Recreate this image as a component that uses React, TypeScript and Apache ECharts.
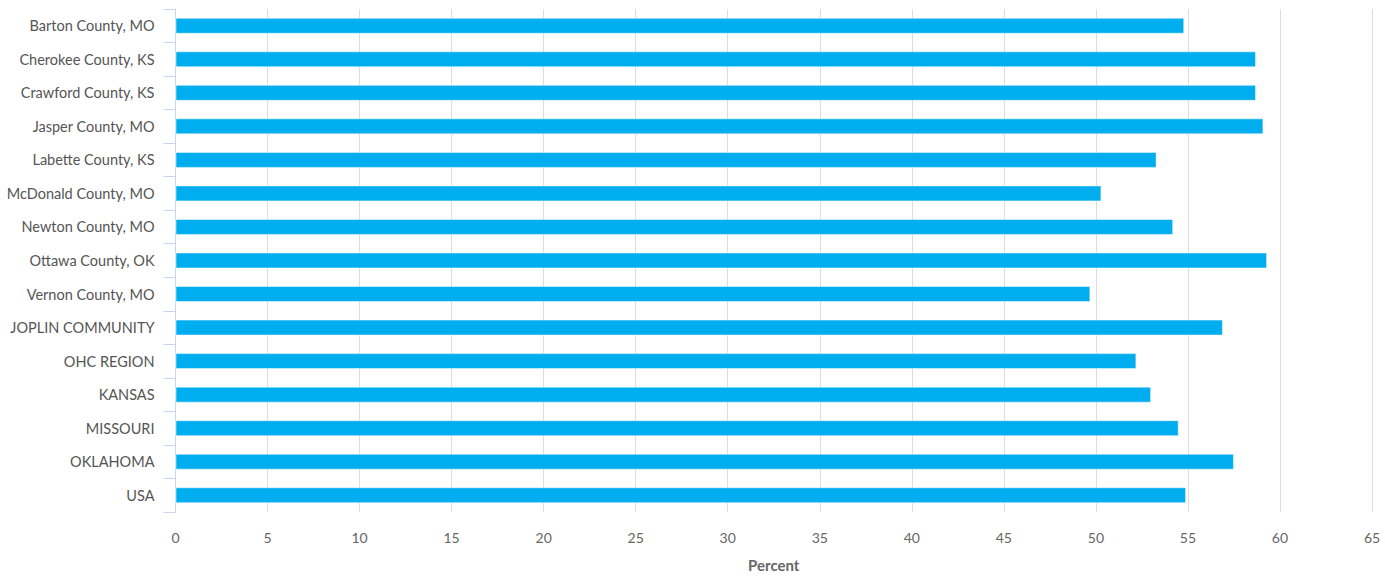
import React, { useEffect, useRef } from "react";
import * as echarts from "echarts";

const categories = [
  "Barton County, MO",
  "Cherokee County, KS",
  "Crawford County, KS",
  "Jasper County, MO",
  "Labette County, KS",
  "McDonald County, MO",
  "Newton County, MO",
  "Ottawa County, OK",
  "Vernon County, MO",
  "JOPLIN COMMUNITY",
  "OHC REGION",
  "KANSAS",
  "MISSOURI",
  "OKLAHOMA",
  "USA",
];

const values = [54.8, 58.7, 58.7, 59.1, 53.3, 50.3, 54.2, 59.3, 49.7, 56.9, 52.2, 53.0, 54.5, 57.5, 54.9];

const xMin = 0;
const xMax = 65;
const xInterval = 5;
const axisName = "Percent";

export default function App() {
  const ref = useRef<HTMLDivElement>(null);
  useEffect(() => {
    if (!ref.current) return;
    const chart = echarts.init(ref.current, undefined, { renderer: "svg" });
    const font = "Lato, 'Open Sans', sans-serif";
    chart.setOption({
      animation: false,
      grid: { left: 175.5, right: 13, top: 9, bottom: 60, containLabel: false },
      xAxis: {
        type: "value",
        min: xMin,
        max: xMax,
        interval: xInterval,
        name: axisName,
        nameLocation: "middle",
        nameGap: 45,
        nameTextStyle: { color: "#666666", fontSize: 15, fontWeight: "bold", fontFamily: font },
        axisLine: { show: false },
        axisTick: { show: false },
        axisLabel: { color: "#666666", fontSize: 14, margin: 18, fontFamily: font },
        splitLine: { show: true, lineStyle: { color: "#dcdcdc", width: 1 } },
      },
      yAxis: {
        type: "category",
        data: categories,
        inverse: true,
        axisLine: { show: true, lineStyle: { color: "#ccd6eb", width: 1 } },
        axisTick: { show: true, length: 12, lineStyle: { color: "#ccd6eb" } },
        axisLabel: { color: "#555555", fontSize: 14.5, margin: 21, fontFamily: font },
        splitLine: { show: false },
      },
      series: [
        {
          type: "bar",
          data: values,
          barWidth: 16,
          itemStyle: { color: "#00aeef", borderColor: "rgba(255,255,255,0.5)", borderWidth: 1 },
        },
      ],
    });
    return () => chart.dispose();
  }, []);
  return <div ref={ref} style={{ width: 1385, height: 577, position: "absolute", left: 0, top: 0 }} />;
}
